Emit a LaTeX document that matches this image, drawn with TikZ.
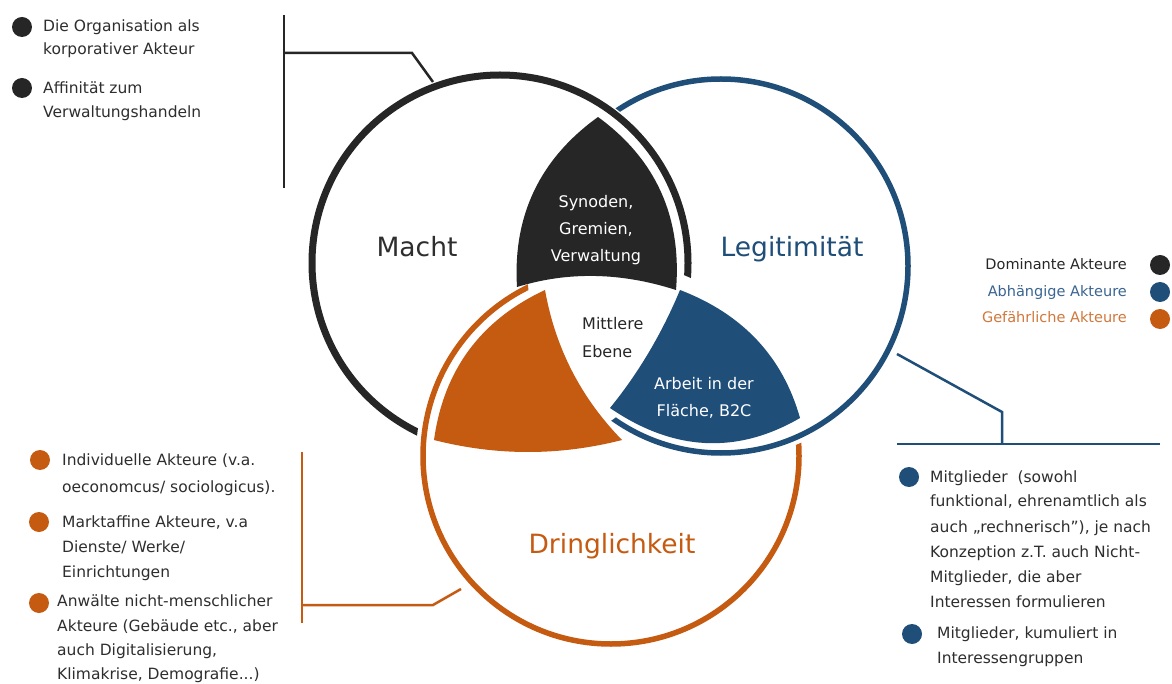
\documentclass[tikz,border=0pt]{standalone}
\usepackage{fontspec}
\setmainfont{DejaVu Sans}
\definecolor{cblack}{HTML}{262626}
\definecolor{cblue}{HTML}{1F4E79}
\definecolor{corange}{HTML}{C55A11}
\definecolor{ctext}{HTML}{2E2E2E}
\definecolor{tblue}{HTML}{3A6591}
\definecolor{torange}{HTML}{D0783C}
\tikzset{
  txt/.style={font=\fontsize{15.5}{18}\selectfont, text=ctext, inner sep=0pt, anchor=base west},
  leg/.style={font=\fontsize{14.5}{18}\selectfont, inner sep=0pt, anchor=base east},
  big/.style={font=\fontsize{26.5}{30}\selectfont, inner sep=0pt, anchor=base},
  inl/.style={font=\fontsize{16}{20}\selectfont, inner sep=0pt, anchor=base},
  dotn/.style={circle, inner sep=0pt, minimum size=20pt},
  conn/.style={line width=2.5pt},
}
\begin{document}
\begin{tikzpicture}[x=1pt,y=-1pt]
\useasboundingbox (0,0) rectangle (1172,684);
\fill[white] (0,0) rectangle (1172,684);

\coordinate (cB) at (500,263);
\coordinate (cL) at (721,266);
\coordinate (cO) at (611,456);

% filled regions
\fill[cblack] (598,117) .. controls (656,159.3) and (682,217) .. (676,290)
  .. controls (621,272.3) and (568,271.3) .. (517,287)
  .. controls (512.7,215.7) and (539.7,159) .. cycle;
\fill[corange] (545,290) .. controls (480.7,320) and (443.7,370) .. (434,440)
  .. controls (496.7,456) and (559.3,456) .. (622,440)
  .. controls (581,398) and (555.3,348) .. cycle;
\fill[cblue] (680,290) .. controls (742.7,314) and (782.7,356.7) .. (800,418)
  .. controls (736.7,454.7) and (673.3,451.3) .. (610,408)
  .. controls (638.7,372.7) and (662,333.3) .. cycle;

% rings (interlaced)
\begin{scope}[even odd rule]
  \clip (-10,-10) rectangle (1200,700) (cO) circle (195);
  \draw[cblack, line width=7pt] (cB) circle (188);
\end{scope}
\begin{scope}[even odd rule]
  \clip (-10,-10) rectangle (1200,700) (cB) circle (193);
  \draw[cblue, line width=5.5pt] (cL) circle (187);
\end{scope}
\begin{scope}[even odd rule]
  \clip (-10,-10) rectangle (1200,700) (cL) circle (194);
  \draw[corange, line width=5.5pt] (cO) circle (188);
\end{scope}

% big labels
\node[big, text=ctext] (macht) at (417,257) {Macht};
\node[big, text=cblue] (legit) at (792,257) {Legitimität};
\node[big, text=corange] (dring) at (612,553) {Dringlichkeit};

% inner labels
\node[inl, text=white] (syn1) at (596,208) {Synoden,};
\node[inl, text=white] (syn2) at (596,235) {Gremien,};
\node[inl, text=white] (syn3) at (596,262) {Verwaltung};
\node[inl, text=cblack, anchor=base west] (mit1) at (582,330) {Mittlere};
\node[inl, text=cblack, anchor=base west] (mit2) at (582,358) {Ebene};
\node[inl, text=white] (arb1) at (704,389) {Arbeit in der};
\node[inl, text=white] (arb2) at (704,416) {Fläche, B2C};

% top-left list
\node[dotn, fill=cblack] (dk1) at (22,27) {};
\node[dotn, fill=cblack] (dk2) at (22,88) {};
\node[txt] (k1a) at (43,32) {Die Organisation als};
\node[txt] (k1b) at (43,55) {korporativer Akteur};
\node[txt] (k2a) at (43,94) {Affinität zum};
\node[txt] (k2b) at (43,118) {Verwaltungshandeln};

% legend
\node[leg, text=cblack] (lg1) at (1127,270) {Dominante Akteure};
\node[leg, text=tblue] (lg2) at (1127,297) {Abhängige Akteure};
\node[leg, text=torange] (lg3) at (1127,323) {Gefährliche Akteure};
\node[dotn, fill=cblack] (ld1) at (1160,265) {};
\node[dotn, fill=cblue] (ld2) at (1160,292) {};
\node[dotn, fill=corange] (ld3) at (1160,319) {};

% bottom-left list
\node[dotn, fill=corange] (do1) at (40,460) {};
\node[dotn, fill=corange] (do2) at (39,522) {};
\node[dotn, fill=corange] (do3) at (39,603) {};
\node[txt] (o1a) at (62,465) {Individuelle Akteure (v.a.};
\node[txt] (o1b) at (62,492) {oeconomcus/ sociologicus).};
\node[txt] (o2a) at (62,527) {Marktaffine Akteure, v.a};
\node[txt] (o2b) at (62,552) {Dienste/ Werke/};
\node[txt] (o2c) at (62,577) {Einrichtungen};
\node[txt] (o3a) at (57,606) {Anwälte nicht-menschlicher};
\node[txt] (o3b) at (57,631) {Akteure (Gebäude etc., aber};
\node[txt] (o3c) at (57,655) {auch Digitalisierung,};
\node[txt] (o3d) at (57,679) {Klimakrise, Demografie...)};

% bottom-right list
\node[dotn, fill=cblue] (db1) at (909,477) {};
\node[dotn, fill=cblue] (db2) at (912,634) {};
\node[txt] (b1a) at (930,482) {Mitglieder\ \ (sowohl};
\node[txt] (b1b) at (930,506) {funktional, ehrenamtlich als};
\node[txt] (b1c) at (930,532) {auch „rechnerisch”), je nach};
\node[txt] (b1d) at (930,557) {Konzeption z.T. auch Nicht-};
\node[txt] (b1e) at (930,582) {Mitglieder, die aber};
\node[txt] (b1f) at (930,607) {Interessen formulieren};
\node[txt] (b2a) at (937,638) {Mitglieder, kumuliert in};
\node[txt] (b2b) at (937,663) {Interessengruppen};

% connectors
\coordinate (kTop) at (284,15);
\coordinate (kBot) at (284,188);
\coordinate (kJ) at (284,53);
\coordinate (kK) at (412,53);
\coordinate (kE) at (433,82);
\draw[conn, cblack] (kTop) -- (kBot);
\draw[conn, cblack] (kJ) -- (kK) -- (kE);

\coordinate (bS) at (897,354);
\coordinate (bK) at (1002,412);
\coordinate (bJ) at (1002,444);
\coordinate (bL) at (897,444);
\coordinate (bR) at (1160,444);
\draw[conn, cblue] (bS) -- (bK) -- (bJ);
\draw[conn, cblue] (bL) -- (bR);

\coordinate (oTop) at (302,452);
\coordinate (oBot) at (302,623);
\coordinate (oJ) at (302,605);
\coordinate (oK) at (433,605);
\coordinate (oE) at (461,589);
\draw[conn, corange] (oTop) -- (oBot);
\draw[conn, corange] (oJ) -- (oK) -- (oE);
\end{tikzpicture}
\end{document}
